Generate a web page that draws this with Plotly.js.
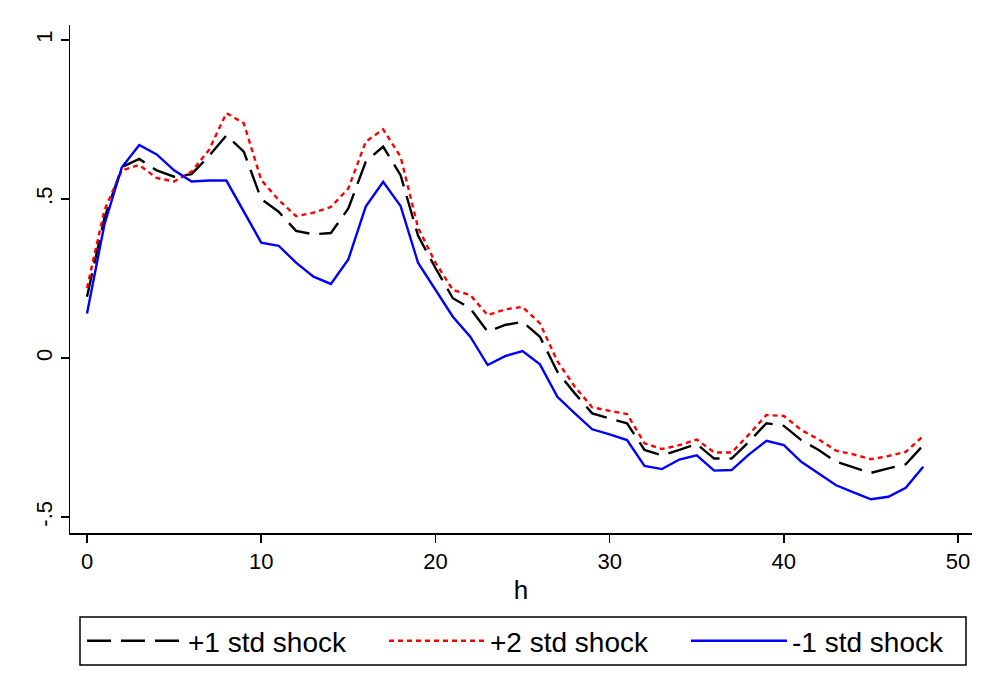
<!DOCTYPE html>
<html>
<head>
<meta charset="utf-8">
<script src="https://cdn.plot.ly/plotly-3.0.1.min.js"></script>
<style>html,body{margin:0;padding:0;background:#fff;}#chart{width:1000px;height:700px;}</style>
</head>
<body>
<div id="chart"></div>
<script>
const h = [0,1,2,3,4,5,6,7,8,9,10,11,12,13,14,15,16,17,18,19,20,21,22,23,24,25,26,27,28,29,30,31,32,33,34,35,36,37,38,39,40,41,42,43,44,45,46,47,48];
const plus1 = [0.193,0.44,0.60,0.626,0.59,0.57,0.578,0.635,0.70,0.649,0.50,0.46,0.40,0.389,0.393,0.47,0.617,0.665,0.575,0.385,0.283,0.188,0.156,0.083,0.104,0.114,0.067,-0.043,-0.111,-0.174,-0.19,-0.205,-0.289,-0.306,-0.289,-0.27,-0.316,-0.316,-0.263,-0.205,-0.213,-0.258,-0.289,-0.326,-0.344,-0.361,-0.347,-0.334,-0.274];
const plus2 = [0.22,0.465,0.59,0.607,0.566,0.555,0.586,0.654,0.77,0.738,0.56,0.497,0.446,0.457,0.475,0.533,0.68,0.719,0.633,0.41,0.30,0.214,0.198,0.135,0.153,0.161,0.109,-0.01,-0.09,-0.155,-0.166,-0.176,-0.268,-0.286,-0.274,-0.256,-0.297,-0.297,-0.24,-0.179,-0.182,-0.226,-0.256,-0.291,-0.303,-0.318,-0.308,-0.295,-0.245];
const minus1 = [0.14,0.42,0.60,0.67,0.64,0.59,0.555,0.558,0.558,0.46,0.363,0.353,0.30,0.256,0.233,0.31,0.476,0.554,0.478,0.30,0.214,0.13,0.067,-0.022,0.006,0.022,-0.02,-0.122,-0.174,-0.224,-0.24,-0.258,-0.339,-0.349,-0.319,-0.306,-0.354,-0.352,-0.303,-0.26,-0.274,-0.326,-0.363,-0.40,-0.422,-0.444,-0.436,-0.408,-0.342];
const seriesNames = ['+1 std shock','+2 std shock','-1 std shock'];
const xTicks = [0,10,20,30,40,50];
const yTicks = [-0.5,0,0.5,1];
const yTickText = ['-.5','0','.5','1'];

const font = 'Liberation Sans, Arial, sans-serif';
const traces = [
  {x:h, y:plus1, name:seriesNames[0], mode:'lines', line:{color:'#000000', width:2.4, dash:'24px,10px'}},
  {x:h, y:plus2, name:seriesNames[1], mode:'lines', line:{color:'#ff0000', width:2.4, dash:'5px,4px'}},
  {x:h, y:minus1, name:seriesNames[2], mode:'lines', line:{color:'#0000ff', width:2.4}}
];
const layout = {
  width:1000, height:700,
  paper_bgcolor:'#ffffff', plot_bgcolor:'#ffffff',
  margin:{l:70, r:28, t:25, b:167},
  font:{family:font, color:'#000', size:22},
  showlegend:true,
  xaxis:{
    range:[-0.976, 50.8], tickvals:xTicks, ticktext:xTicks.map(String),
    showgrid:false, zeroline:false, showline:true, linecolor:'#000', linewidth:1.5,
    ticks:'outside', ticklen:8, tickwidth:1.5, tickcolor:'#000',
    tickfont:{family:font, size:22, color:'#000'},
    title:{text:'h', font:{family:font, size:26, color:'#000'}, standoff:8}
  },
  yaxis:{
    range:[-0.55, 1.047], tickvals:yTicks, ticktext:yTickText,
    showgrid:false, zeroline:false, showline:true, linecolor:'#000', linewidth:1.5,
    ticks:'outside', ticklen:8, tickwidth:1.5, tickcolor:'#000', tickangle:-90,
    tickfont:{family:font, size:22, color:'#000'}
  },
  legend:{
    orientation:'h', xref:'container', yref:'container',
    x:0.082, xanchor:'left', y:0.0843, yanchor:'middle',
    borderwidth:0, bgcolor:'rgba(0,0,0,0)',
    font:{family:font, size:28, color:'#000'},
    itemwidth:96, entrywidth:191, entrywidthmode:'pixels',
    traceorder:'normal'
  },
  shapes:[{
    type:'rect', xref:'paper', yref:'paper',
    x0:(80-70)/902, x1:(966-70)/902, y0:(533-665)/508, y1:(533-617)/508,
    line:{color:'#000', width:1.5}, fillcolor:'rgba(0,0,0,0)', layer:'below'
  }]
};
Plotly.newPlot('chart', traces, layout, {displayModeBar:false, staticPlot:true});
</script>
</body>
</html>
